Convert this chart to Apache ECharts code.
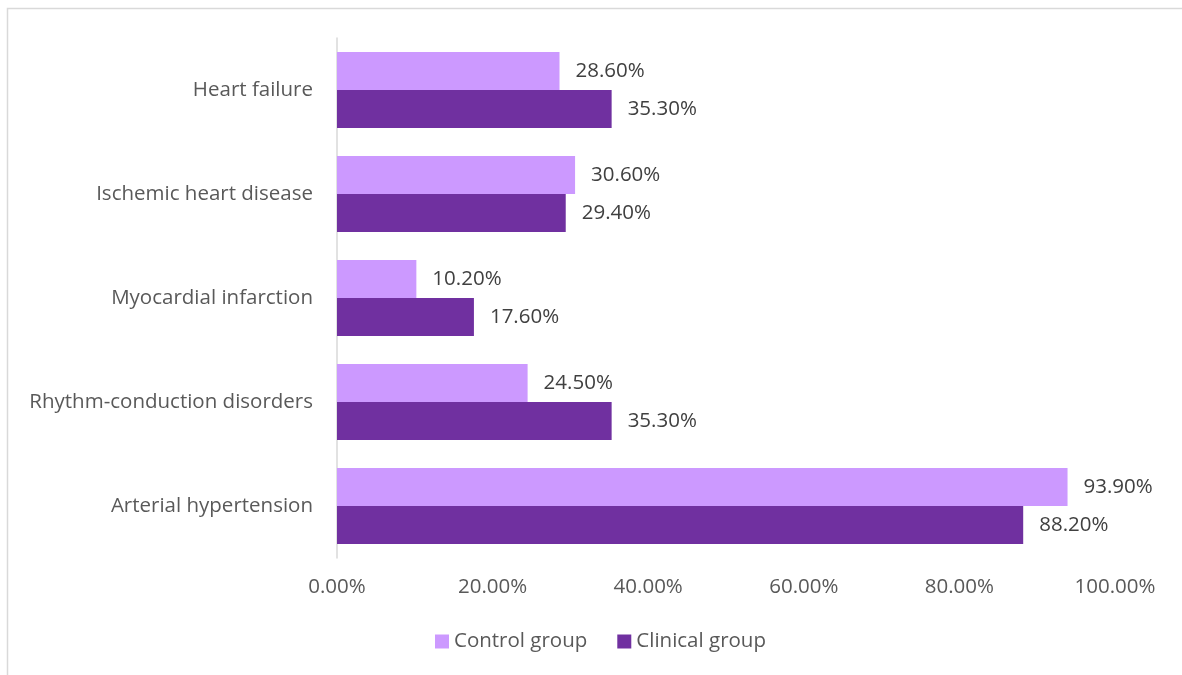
<!DOCTYPE html>
<html>
<head>
<meta charset="utf-8">
<script src="https://cdn.jsdelivr.net/npm/echarts@6/dist/echarts.min.js"></script>
<style>
  html, body { margin: 0; padding: 0; background: #fff; }
  #chart { width: 1182px; height: 675px; }
</style>
</head>
<body>
<div id="chart"></div>
<script>
// Categories, listed top to bottom
const categories = ['Heart failure', 'Ischemic heart disease', 'Myocardial infarction', 'Rhythm-conduction disorders', 'Arterial hypertension'];
const seriesNames = ['Control group', 'Clinical group'];
const controlValues = [28.6, 30.6, 10.2, 24.5, 93.9];
const clinicalValues = [35.3, 29.4, 17.6, 35.3, 88.2];
const xTicks = [0, 20, 40, 60, 80, 100];

const FONT = '"Open Sans", "Liberation Sans", sans-serif';
const FS = 20.5;
const pct = v => v.toFixed(2) + '%';

const chart = echarts.init(document.getElementById('chart'), null, { renderer: 'canvas' });

const labelStyle = {
  show: true, position: 'right', distance: 16,
  fontFamily: FONT, fontSize: FS, color: '#404040',
  formatter: p => pct(p.value)
};

chart.setOption({
  backgroundColor: '#fff',
  animation: false,
  // light frame around the chart area (open at the right and bottom edges)
  graphic: [{
    type: 'rect',
    shape: { x: 7.5, y: 8.5, width: 1400, height: 900 },
    style: { fill: 'none', stroke: '#d9d9d9', lineWidth: 1.5 },
    silent: true
  }],
  grid: { left: 337, right: 67, top: 38, bottom: 117 },
  legend: {
    top: 626,
    left: 430,
    itemWidth: 14,
    itemHeight: 14,
    itemGap: 30,
    icon: 'rect',
    textStyle: { fontFamily: FONT, fontSize: FS, color: '#595959' },
    data: seriesNames
  },
  xAxis: {
    type: 'value',
    min: xTicks[0],
    max: xTicks[xTicks.length - 1],
    interval: xTicks[1] - xTicks[0],
    axisLine: { show: false },
    axisTick: { show: false },
    splitLine: { show: false },
    axisLabel: { margin: 19, fontFamily: FONT, fontSize: FS, color: '#595959', formatter: v => pct(v) }
  },
  yAxis: {
    type: 'category',
    data: categories,
    inverse: true,
    axisLine: { show: true, lineStyle: { color: '#d9d9d9', width: 1.5 } },
    axisTick: { show: false },
    axisLabel: { margin: 24, fontFamily: FONT, fontSize: FS, color: '#595959' }
  },
  series: [
    {
      name: seriesNames[0],
      type: 'bar',
      data: controlValues,
      barGap: '0%',
      barCategoryGap: '27%',
      itemStyle: { color: '#cc99ff' },
      label: labelStyle
    },
    {
      name: seriesNames[1],
      type: 'bar',
      data: clinicalValues,
      barGap: '0%',
      barCategoryGap: '27%',
      itemStyle: { color: '#7030a0' },
      label: labelStyle
    }
  ]
});
</script>
</body>
</html>
